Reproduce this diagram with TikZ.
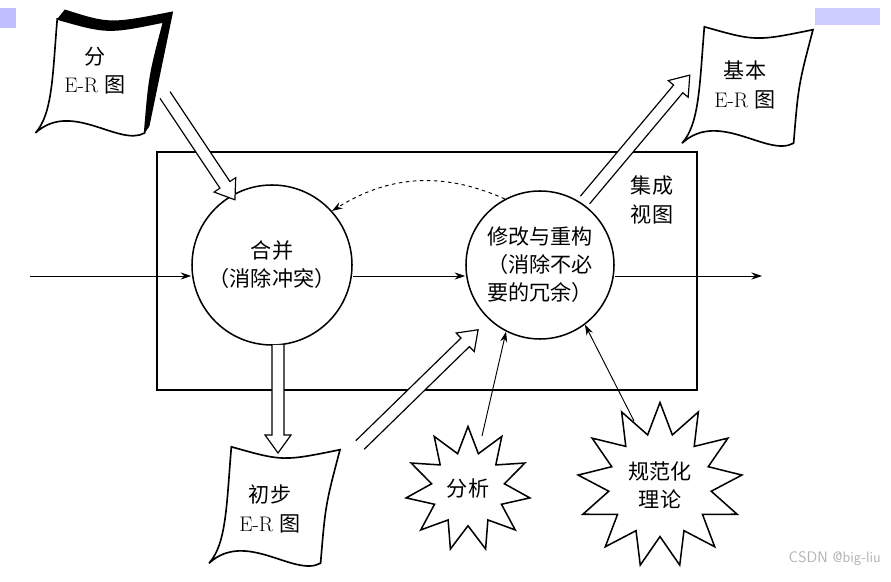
\documentclass[tikz,border=0pt]{standalone}
\usepackage{fontspec}
\newfontfamily\cjk{Noto Sans CJK SC}
\usetikzlibrary{shapes.geometric,arrows.meta}
\begin{document}
\begin{tikzpicture}[x=0.03cm,y=0.03cm,
  lbl/.style={font=\cjk\fontsize{18}{24}\selectfont,align=center},
  thinarrow/.style={-{Stealth[length=9pt,width=6pt]},line width=0.8pt},
  harrow/.style={line width=1pt,line join=miter},
  docpic/.pic={
    \draw[line width=1.4pt, fill=white] (-45,60) .. controls (8,45) .. (67,57) .. controls (52,0) .. (47,-60) .. controls (20,-75) and (-30,-25) .. (-68,-60) .. controls (-50,-40) and (-50,0) .. (-45,60) -- cycle;
  },
  shadowpic/.pic={
    \fill (-37,70) .. controls (10,55) .. (77,68) -- (52,-53) -- (47,-60) .. controls (52,0) .. (67,57) .. controls (8,45) .. (-45,60) -- cycle;
  }]
\useasboundingbox (0,0) rectangle (891,581);
\fill[blue!25] (0,553) rectangle (16,573);
\fill[blue!20] (815,556) rectangle (880,573);
% frame
\node[draw,line width=1.2pt,minimum width=540*0.03cm,minimum height=238*0.03cm,inner sep=0] (frame) at (427,310) {};
% circles
\node[circle,draw,line width=1.3pt,minimum size=160*0.03cm,lbl] (c1) at (272,316) {合并\\（消除冲突）};
\node[circle,draw,line width=1.3pt,minimum size=148*0.03cm,lbl,inner sep=0] (c2) at (540,316) {修改与重构\\（消除不必\\要的冗余）};
\node[lbl] (jc) at (652,381) {集成\\视图};
% main line
\coordinate (in) at (30,305);
\coordinate (out) at (762,305);
\draw[thinarrow] (in) -- (in -| c1.west);
\draw[thinarrow] (c1.east |- in) -- (in -| c2.west);
\draw[thinarrow] (c2.east |- in) -- (out);
\draw[dashed,thinarrow] (c2.118) to[bend right=28] (c1.42);
% docs
\pic[scale=0.95] at (100,505) {shadowpic};
\pic[scale=0.95] at (100,505) {docpic};
\node[lbl] (d1) at (95,510) {分\\\rmfamily E-R \cjk 图};
\pic[scale=0.97] at (748,496) {docpic};
\node[lbl] (d2) at (745,496) {基本\\\rmfamily E-R \cjk 图};
\pic[scale=0.97] at (275,76) {docpic};
\node[lbl] (d3) at (270,72) {初步\\\rmfamily E-R \cjk 图};
% stars
\node[star,star points=11,star point ratio=1.7,draw,line width=1.3pt,fill=white,minimum size=125*0.03cm,lbl,inner sep=0] (s1) at (468,92) {分析};
\node[star,star points=13,star point ratio=1.6,draw,line width=1.3pt,fill=white,minimum size=165*0.03cm,lbl,inner sep=0] (s2) at (660,96) {规范化\\理论};
\coordinate (s1t) at (482,145);
\coordinate (s2t) at (634,160);
\draw[thinarrow] (s1t) -- (c2.243);
\draw[thinarrow] (s2t) -- (c2.307);
% hollow arrows
\newcommand\harr[3]{\draw[harrow,fill=white,shift={(#1)},rotate=#2] (0,6) -- (#3-18,6) -- (#3-18,13) -- (#3,0) -- (#3-18,-13) -- (#3-18,-6) -- (0,-6);}
\coordinate (a1) at (165,486);
\coordinate (a2) at (278,236);
\coordinate (a3) at (360,136);
\coordinate (a4) at (585,381);
\harr{a1}{-56.3}{126}
\harr{a2}{-90}{108}
\harr{a3}{44.3}{165}
\harr{a4}{50}{163}
\node[gray!60,font=\sffamily\fontsize{13}{15}\selectfont,anchor=east] (wm) at (885,22) {CSDN @big-liu};
\end{tikzpicture}
\end{document}
